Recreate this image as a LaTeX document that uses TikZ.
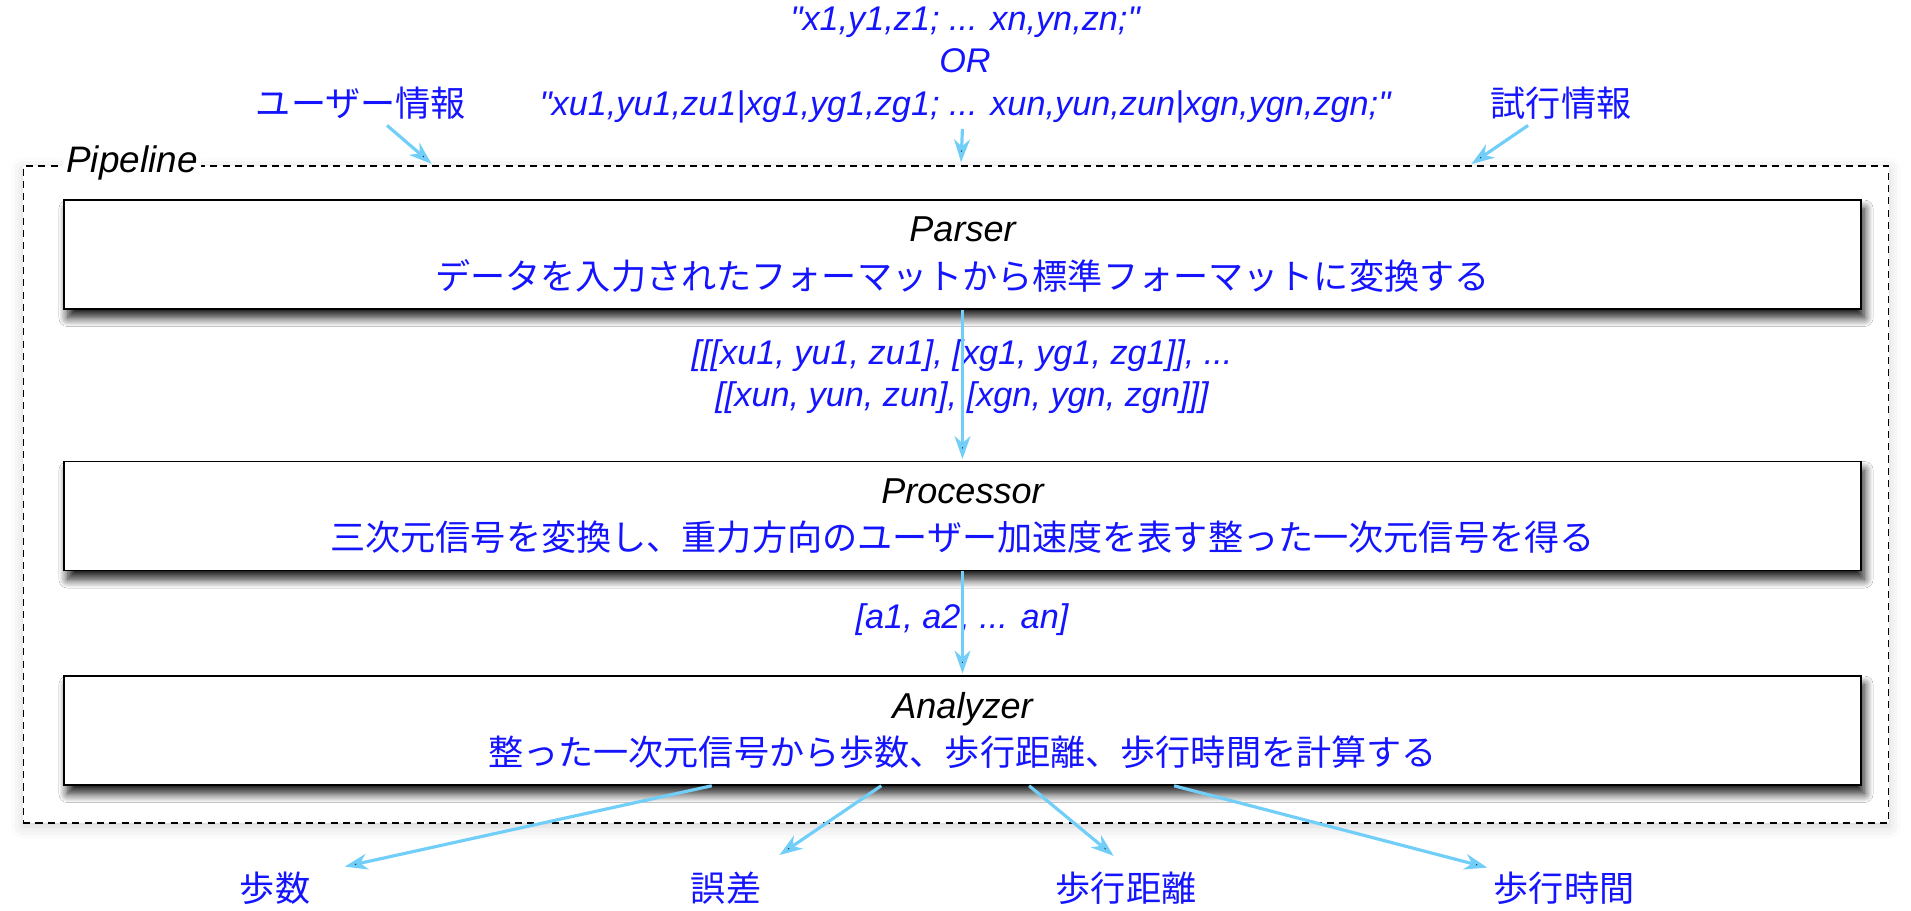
\documentclass[tikz,border=0pt]{standalone}
\usepackage{fontspec}
\setmainfont{Liberation Sans}[Ligatures=TeXOff]
\newfontfamily\jp{Noto Sans CJK JP}
\usetikzlibrary{arrows.meta}
\usetikzlibrary{shadows.blur}

\definecolor{flowblue}{RGB}{112,206,248}
\definecolor{textblue}{RGB}{20,20,255}

\newcommand{\stagejp}[1]{{\jp\upshape\fontsize{20}{27}\selectfont\color{textblue}#1}}

\begin{document}
\begin{tikzpicture}[x=0.02cm,y=-0.02cm,>={Stealth[length=13pt,width=9pt,inset=4pt]},
    flow/.style={->,draw=flowblue,line width=1.8pt,shorten >=1pt},
    stage node/.style={rectangle,draw,fill=white,line width=0.9pt,minimum width=35.94cm,
      minimum height=2.18cm,inner sep=0pt,align=center,font=\itshape\fontsize{20.5}{27}\selectfont,
      blur shadow={shadow xshift=2pt,shadow yshift=-5pt,shadow blur radius=5pt,shadow blur steps=12,shadow opacity=90}},
    pipeline box/.style={rectangle,draw,dashed,dash pattern=on 4pt off 3pt,line width=0.7pt,fill=white,
      minimum width=37.32cm,minimum height=13.14cm,
      blur shadow={shadow xshift=0pt,shadow yshift=-2pt,shadow blur radius=7pt,shadow opacity=18}},
    data label/.style={text=textblue,align=center,font=\itshape\fontsize{19.5}{24}\selectfont},
    jp label/.style={text=textblue,font=\jp\fontsize{20}{24}\selectfont}]

  \useasboundingbox (0,0) rectangle (1911,910);

  % the pipeline frame
  \node[pipeline box] (pipeline) at (956,494.5) {};
  \node[fill=white,inner sep=2pt,font=\itshape\fontsize{21}{24}\selectfont] (pipeline name) at (132,163) {Pipeline};

  % stages
  \node[stage node] (parser) at (962.5,254.5) {Parser\\\stagejp{データを入力されたフォーマットから標準フォーマットに変換する}};
  \node[stage node] (processor) at (962.5,516) {Processor\\\stagejp{三次元信号を変換し、重力方向のユーザー加速度を表す整った一次元信号を得る}};
  \node[stage node] (analyzer) at (962.5,730.5) {Analyzer\\\stagejp{整った一次元信号から歩数、歩行距離、歩行時間を計算する}};

  % inputs
  \node[data label] (raw data) at (965,65) {"x1,y1,z1; ... xn,yn,zn;"\\OR\\"xu1,yu1,zu1|xg1,yg1,zg1; ... xun,yun,zun|xgn,ygn,zgn;"};
  \node[jp label] (user info) at (361,103) {ユーザー情報};
  \node[jp label] (trial info) at (1561,103) {試行情報};
  \coordinate (user tip) at (433,165);
  \coordinate (data tip) at (961,164);
  \coordinate (trial tip) at (1470,165);

  % data between the stages
  \node[data label] (parsed data) at (962,377) {[[[xu1, yu1, zu1], [xg1, yg1, zg1]], ...\\{}[[xun, yun, zun], [xgn, ygn, zgn]]]};
  \node[data label] (signal data) at (962,620) {[a1, a2, ... an]};

  % outputs
  \node[jp label] (steps) at (275,888) {歩数};
  \node[jp label] (error) at (726,888) {誤差};
  \node[jp label] (distance) at (1126,888) {歩行距離};
  \node[jp label] (duration) at (1564,888) {歩行時間};
  \coordinate (steps tip) at (343,867);
  \coordinate (error tip) at (778,856);
  \coordinate (distance tip) at (1115,857);
  \coordinate (duration tip) at (1489,868);

  \path[flow]
    (user info) edge (user tip)
    (raw data) edge (data tip)
    (trial info) edge (trial tip)
    (parser) edge (processor)
    (processor) edge (analyzer)
    (analyzer) edge (steps tip)
               edge (error tip)
               edge (distance tip)
               edge (duration tip)
;
\end{tikzpicture}
\end{document}
